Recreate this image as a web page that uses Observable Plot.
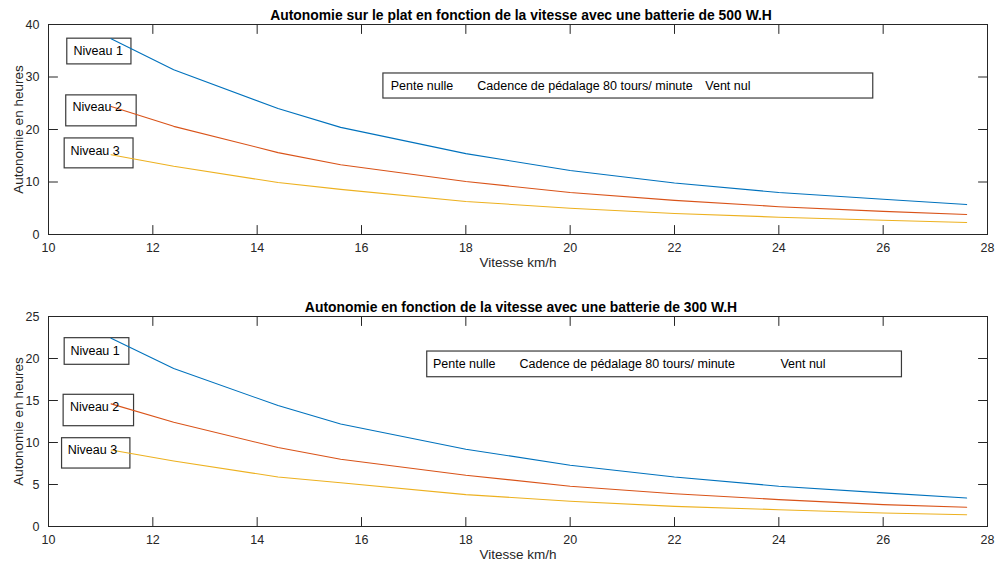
<!DOCTYPE html>
<html><head><meta charset="utf-8">
<script src="https://cdn.jsdelivr.net/npm/d3@7"></script>
<script src="https://cdn.jsdelivr.net/npm/@observablehq/plot@0.6"></script>
<style>
body{margin:0;background:#fff;}
#chart svg{display:block;}
</style>
</head><body><div id="chart"></div>
<script>
const vitesse = [11.2, 12.4, 14.4, 15.6, 18, 20, 22, 24, 26, 27.6];
const top1 = [37.3, 31.4, 24.0, 20.4, 15.4, 12.2, 9.8, 8.0, 6.7, 5.7];
const top2 = [24.4, 20.6, 15.6, 13.3, 10.1, 8.0, 6.5, 5.3, 4.4, 3.8];
const top3 = [15.2, 13.0, 9.9, 8.6, 6.3, 5.0, 4.0, 3.3, 2.7, 2.3];
const bot1 = [22.4, 18.8, 14.4, 12.2, 9.2, 7.3, 5.9, 4.8, 4.0, 3.4];
const bot2 = [14.6, 12.4, 9.4, 8.0, 6.1, 4.8, 3.9, 3.2, 2.6, 2.3];
const bot3 = [9.1, 7.8, 5.9, 5.2, 3.8, 3.0, 2.4, 2.0, 1.6, 1.4];
const niveaux = ["Niveau 1", "Niveau 2", "Niveau 3"];
const colors = ["#0072BD", "#D95319", "#EDB120"];
const xTicks = [10, 12, 14, 16, 18, 20, 22, 24, 26, 28];
const yTicksTop = [0, 10, 20, 30, 40];
const yTicksBot = [0, 5, 10, 15, 20, 25];
const titleTop = "Autonomie sur le plat en fonction de la vitesse avec une batterie de 500 W.H";
const titleBot = "Autonomie en fonction de la vitesse avec une batterie de 300 W.H";
const xLabel = "Vitesse km/h";
const yLabel = "Autonomie en heures";
const infoTexts = ["Pente nulle", "Cadence de pédalage 80 tours/ minute", "Vent nul"];

// annotation boxes (data coordinates)
const boxesTop = [
  {x1: 10.36, x2: 11.59, y1: 32.4, y2: 37.3, tx: 10.48, ty: 35.0, label: niveaux[0]},
  {x1: 10.34, x2: 11.69, y1: 20.6, y2: 26.5, tx: 10.46, ty: 24.2, label: niveaux[1]},
  {x1: 10.31, x2: 11.63, y1: 12.6, y2: 18.3, tx: 10.42, ty: 16.0, label: niveaux[2]}
];
const infoTop = {x1: 16.42, x2: 25.81, y1: 25.9, y2: 30.67, ty: 28.2, tx: [16.56, 18.22, 22.59]};
const boxesBot = [
  {x1: 10.31, x2: 11.55, y1: 19.25, y2: 22.42, tx: 10.42, ty: 20.95, label: niveaux[0]},
  {x1: 10.29, x2: 11.64, y1: 11.94, y2: 15.68, tx: 10.41, ty: 14.2, label: niveaux[1]},
  {x1: 10.26, x2: 11.57, y1: 6.9, y2: 10.51, tx: 10.37, ty: 9.05, label: niveaux[2]}
];
const infoBot = {x1: 17.26, x2: 26.36, y1: 17.77, y2: 20.83, ty: 19.37, tx: [17.37, 19.03, 24.03]};

const tickShape = {draw(context, l) { context.moveTo(0, 0); context.lineTo(0, -l); }};

function panel({series, yDomain, yTicks, title, boxes, info, height, marginTop, marginBottom}) {
  const data = [];
  series.forEach((s, i) => s.forEach((v, j) => data.push({x: vitesse[j], y: v, niveau: niveaux[i]})));
  const axisColor = "#262626";
  const tickLen = 9;
  const tk = {shape: tickShape, length: tickLen, anchor: "start", stroke: axisColor, strokeWidth: 1};
  return Plot.plot({
    width: 995, height, marginLeft: 48, marginRight: 8, marginTop, marginBottom,
    style: {fontFamily: "Liberation Sans, Arial, Helvetica, sans-serif", fontSize: "12.5px", color: axisColor, background: "#fff"},
    x: {domain: [10, 28]},
    y: {domain: yDomain},
    color: {domain: niveaux, range: colors},
    marks: [
      Plot.rect(boxes, {x1: "x1", x2: "x2", y1: "y1", y2: "y2", fill: "white", stroke: "#3a3a3a", strokeWidth: 1.2}),
      Plot.rect([info], {x1: "x1", x2: "x2", y1: "y1", y2: "y2", fill: "white", stroke: "#3a3a3a", strokeWidth: 1.2}),
      Plot.line(data, {x: "x", y: "y", z: "niveau", stroke: "niveau", strokeWidth: 1.1}),
      Plot.text(boxes, {x: "tx", y: "ty", text: "label", textAnchor: "start", fontSize: 12.5, fill: "#000"}),
      Plot.text(infoTexts, {x: (d, i) => info.tx[i], y: () => info.ty, text: d => d, textAnchor: "start", fontSize: 12.5, fill: "#000"}),
      Plot.frame({stroke: axisColor, strokeWidth: 1}),
      Plot.vector(xTicks, {x: d => d, frameAnchor: "bottom", rotate: 0, ...tk}),
      Plot.vector(xTicks, {x: d => d, frameAnchor: "top", rotate: 180, ...tk}),
      Plot.vector(yTicks, {y: d => d, frameAnchor: "left", rotate: 90, ...tk}),
      Plot.vector(yTicks, {y: d => d, frameAnchor: "right", rotate: -90, ...tk}),
      Plot.axisX(xTicks, {tickSize: 0, tickPadding: 9, fontSize: 12.5, label: null, fill: axisColor}),
      Plot.axisY(yTicks, {tickSize: 0, tickPadding: 9, fontSize: 12.5, label: null, fill: axisColor}),
      Plot.text([xLabel], {frameAnchor: "bottom", dy: 32, fontSize: 13.5, fill: axisColor}),
      Plot.text([yLabel], {frameAnchor: "left", dx: -30, rotate: -90, textAnchor: "middle", fontSize: 13.5, fill: axisColor}),
      Plot.text([title], {frameAnchor: "top", dy: -5, dx: 3, lineAnchor: "bottom", fontWeight: "bold", fontSize: 13.9, fill: "#000"})
    ]
  });
}

const chart = document.getElementById("chart");
chart.appendChild(panel({series: [top1, top2, top3], yDomain: [0, 40], yTicks: yTicksTop, title: titleTop, boxes: boxesTop, info: infoTop, height: 283, marginTop: 24, marginBottom: 49}));
chart.appendChild(panel({series: [bot1, bot2, bot3], yDomain: [0, 25], yTicks: yTicksBot, title: titleBot, boxes: boxesBot, info: infoBot, height: 284, marginTop: 33, marginBottom: 41}));
</script>
</body></html>
